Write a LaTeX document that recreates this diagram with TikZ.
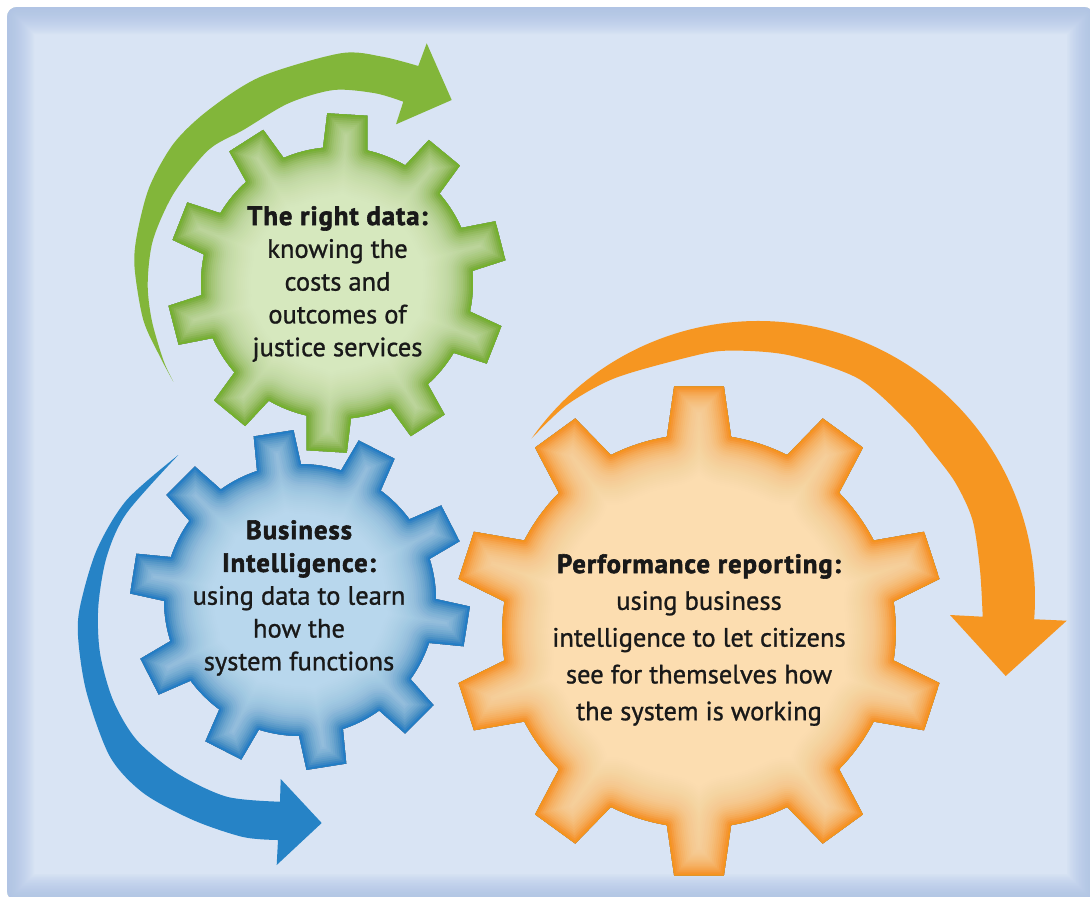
\documentclass[tikz,border=0pt]{standalone}
\usepackage{fontspec}
\newfontfamily\cogfont{PT Sans}[UprightFeatures={FakeBold=1.0},BoldFeatures={FakeBold=2.2,LetterSpace=4}]

\definecolor{panel}{RGB}{217,228,244}
\definecolor{panelrim}{RGB}{168,190,228}
\definecolor{ink}{RGB}{25,25,25}
\definecolor{leaf}{RGB}{130,182,58}
\definecolor{leafpale}{RGB}{214,232,190}
\definecolor{leafdeep}{RGB}{118,176,46}
\definecolor{sky}{RGB}{38,131,198}
\definecolor{skypale}{RGB}{184,215,237}
\definecolor{skydeep}{RGB}{34,126,196}
\definecolor{amber}{RGB}{246,150,33}
\definecolor{amberpale}{RGB}{252,221,176}
\definecolor{amberdeep}{RGB}{245,148,30}

% body fill of each cog: pale hub, a little colour towards the teeth
\pgfdeclareradialshading{leafcog}{\pgfpoint{0bp}{0bp}}{color(0bp)=(leafpale); color(37bp)=(leafpale);
  color(50bp)=(leafpale!75!leafdeep)}
\pgfdeclareradialshading{skycog}{\pgfpoint{0bp}{0bp}}{color(0bp)=(skypale); color(37bp)=(skypale);
  color(50bp)=(skypale!75!skydeep)}
\pgfdeclareradialshading{ambercog}{\pgfpoint{0bp}{0bp}}{color(0bp)=(amberpale); color(37bp)=(amberpale);
  color(50bp)=(amberpale!75!amberdeep)}

% ten-tooth cog around the origin: #1 tip radius, #2 first tooth angle, #3 half width of a tip
\newcommand{\cogpath}[3]{%
  ({#2-9.4}:{0.8*#1})
  \foreach \k in {0,...,9}{
    -- ({#2+36*\k-#3}:#1) -- ({#2+36*\k+#3}:#1)
    -- ({#2+36*\k+9.4}:{0.8*#1})
    arc[start angle={#2+36*\k+9.4}, end angle={#2+36*\k+26.6}, radius={0.8*#1}]
  } -- cycle}

% shaded cog with a soft coloured rim (stacked strokes, fading inwards)
\newcommand{\cog}[6]{%
  \begin{scope}[shift={(#1)}]
    \clip \cogpath{#2}{#3}{#4};
    \fill[shading=#5] (0,0) circle[radius=#2];
    \foreach \h in {2,4,...,50}{
      \pgfmathsetmacro\op{1-(1-0.9*exp(-(\h-2)/15))/(1-0.9*exp(-\h/15))}
      \pgfmathsetmacro\lw{2*\h}
      \draw[#6, line width=\lw pt, opacity=\op, line join=round] \cogpath{#2}{#3}{#4};
    }
  \end{scope}}

\begin{document}
\begin{tikzpicture}[x=1pt,y=-1pt,
    label text/.style={align=center,text=ink,inner sep=0pt},
    small cog/.style={font=\cogfont\fontsize{26.5}{32.8}\selectfont},
    big cog/.style={font=\cogfont\fontsize{26.5}{36.8}\selectfont}]

  \useasboundingbox (0,0) rectangle (1090,897);
  \fill[white] (0,0) rectangle (1090,897);

  % backdrop with shaded rim
  \begin{scope}
    \clip[rounded corners=10] (7,7) rectangle (1094,901);
    \fill[panel] (0,0) rectangle (1100,910);
    \foreach \w in {3,6,...,54}
      \draw[panelrim, line width=\w pt, opacity=0.07, rounded corners=10] (7,7) rectangle (1094,901);
  \end{scope}

  \coordinate (greenhub) at (337,283);
  \coordinate (bluehub) at (300,600);
  \coordinate (orangehub) at (699,631);
  \coordinate (amberpivot) at (758,598);

  % curved arrows
  \fill[leaf] plot[smooth] coordinates {(173.3,381.7) (160,356.7) (143.3,320) (134.5,266.7)
      (137.3,233) (149.5,186.7) (173.8,143.3) (208.5,110) (260.7,76.7) (340.6,53.3)
      (382.3,56.7) (418.3,66)}
    -- (426.7,43.3) -- (451.7,100) -- (396,124.3) -- (403.3,101.7)
    -- plot[smooth] coordinates {(403.3,101.7) (375.4,93.3) (333.7,90) (288.5,103.3)
      (243.3,130) (208.5,150) (173.8,193.3) (153,240) (147.7,283.3) (151.7,320)
      (163.3,360) (173.3,381.7)} -- cycle;

  \fill[sky] plot[smooth] coordinates {(178.3,455) (126.7,500) (96.7,550) (80,606.7)
      (78.3,640) (86.7,693) (110,756.7) (143.3,793) (193,820) (243,837) (278,840)}
    -- (276.7,865) -- (321.7,823) -- (280.7,779) -- (280,801.7)
    -- plot[smooth] coordinates {(280,801.7) (226.7,796.7) (176.7,773) (136.7,740)
      (113,700) (100,653) (98.3,606.7) (106.7,556.7) (126.7,513) (178.3,455)} -- cycle;

  \fill[amber] ([shift={(-144.8:277)}]amberpivot) arc[start angle=-144.8, end angle=4.4, radius=277]
    -- (1066.7,620.7) -- (1005.7,676) -- (950,615) -- (982.7,616.7)
    -- plot[smooth] coordinates {(982.7,616.7) (980,570) (972.5,520) (955,482) (930.8,450)
      (906,420) (857.8,378.3) (788,355) (725.7,350.7) (684,358.3) (614.5,378.3)
      (566.7,405) (531.7,438.3)} -- cycle;

  % cogs
  \cog{orangehub}{246}{-18}{5.8}{ambercog}{amberdeep}
  \cog{bluehub}{170}{-27}{6.8}{skycog}{skydeep}
  \cog{greenhub}{170}{-14.5}{6.8}{leafcog}{leafdeep}

  % captions
  \node[label text, small cog] (rightdata) at (337.5,284)
    {{\bfseries The right data:}\\knowing the\\costs and\\outcomes of\\justice services};
  \node[label text, small cog] (bizintel) at (299,598)
    {{\bfseries Business}\\{\bfseries Intelligence:}\\using data to learn\\how the\\system functions};
  \node[label text, big cog] (perfreport) at (699,640)
    {{\bfseries Performance reporting:}\\using business\\intelligence to let citizens\\see for themselves how\\the system is working};
\end{tikzpicture}
\end{document}
